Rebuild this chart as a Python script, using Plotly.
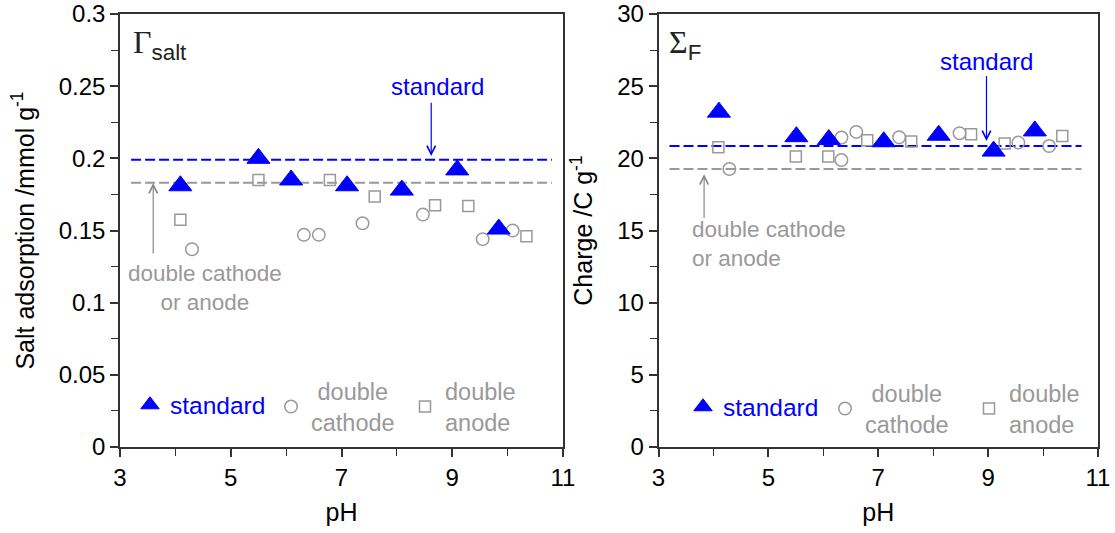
import plotly.graph_objects as go

# ---------------- data ----------------
# Left panel: salt adsorption (mmol/g)
ph_std_L = [4.09, 5.50, 6.09, 7.10, 8.09, 9.09, 9.84]
salt_std = [0.181, 0.200, 0.185, 0.181, 0.178, 0.192, 0.151]
ph_cat_L = [4.30, 6.32, 6.59, 7.38, 8.47, 9.55, 10.09]
salt_cat = [0.137, 0.147, 0.147, 0.155, 0.161, 0.144, 0.150]
ph_an_L = [4.09, 5.50, 6.79, 7.60, 8.69, 9.29, 10.34]
salt_an = [0.1575, 0.185, 0.185, 0.1735, 0.1675, 0.167, 0.146]
salt_std_mean = 0.199
salt_dbl_mean = 0.183

# Right panel: charge (C/g)
ph_std_R = [4.10, 5.51, 6.10, 7.10, 8.10, 9.10, 9.85]
chg_std = [23.2, 21.5, 21.3, 21.15, 21.6, 20.5, 21.9]
ph_cat_R = [4.29, 6.33, 6.33, 6.60, 7.38, 8.48, 9.55, 10.11]
chg_cat = [19.26, 21.44, 19.88, 21.83, 21.46, 21.74, 21.09, 20.85]
ph_an_R = [4.09, 5.50, 6.09, 6.80, 7.60, 8.69, 9.30, 10.35]
chg_an = [20.76, 20.12, 20.12, 21.25, 21.16, 21.67, 21.02, 21.55]
chg_std_mean = 20.85
chg_dbl_mean = 19.26

line_x_L = [3.2, 10.8]
line_x_R = [3.2, 10.7]

# ---------------- style ----------------
FONT = "Liberation Sans"
BLUE = "#0000FF"
GRAY = "#999999"
AXC = "#333333"
W, H = 1115, 533

fig = go.Figure()

def add_lines(xa, ya, xl, std_v, dbl_v):
    fig.add_trace(go.Scatter(x=xl, y=[std_v, std_v], mode="lines", xaxis=xa, yaxis=ya,
                             line=dict(color=BLUE, width=2, dash="10px,4px"), showlegend=False,
                             hoverinfo="skip"))
    fig.add_trace(go.Scatter(x=xl, y=[dbl_v, dbl_v], mode="lines", xaxis=xa, yaxis=ya,
                             line=dict(color=GRAY, width=2, dash="10px,4px"), showlegend=False,
                             hoverinfo="skip"))

def add_series(xa, ya, xs, ys, xc, yc, xq, yq, legs):
    fig.add_trace(go.Scatter(
        x=xc, y=yc, mode="markers", xaxis=xa, yaxis=ya, legend=legs[1],
        name="&nbsp;double<br>cathode",
        marker=dict(symbol="circle-open", size=12.5, color=GRAY, line=dict(width=1.5, color=GRAY))))
    fig.add_trace(go.Scatter(
        x=xq, y=yq, mode="markers", xaxis=xa, yaxis=ya, legend=legs[2],
        name="double<br>anode",
        marker=dict(symbol="square-open", size=11, color=GRAY, line=dict(width=1.5, color=GRAY))))
    fig.add_trace(go.Scatter(
        x=xs, y=ys, mode="markers", xaxis=xa, yaxis=ya, legend=legs[0],
        name="<span style='color:#0000FF;font-size:24.5px'>standard</span>",
        marker=dict(symbol="triangle-up", size=20, color=BLUE, line=dict(width=1, color=BLUE))))

add_lines("x", "y", line_x_L, salt_std_mean, salt_dbl_mean)
add_lines("x2", "y2", line_x_R, chg_std_mean, chg_dbl_mean)
add_series("x", "y", ph_std_L, salt_std, ph_cat_L, salt_cat, ph_an_L, salt_an,
           ["legend", "legend2", "legend3"])
add_series("x2", "y2", ph_std_R, chg_std, ph_cat_R, chg_cat, ph_an_R, chg_an,
           ["legend4", "legend5", "legend6"])

ydom = [1 - 447 / H, 1 - 14 / H]
common_x = dict(range=[3, 11], dtick=2, tick0=3, ticks="outside", ticklen=8, tickwidth=1.5,
                tickcolor=AXC, showline=True, linecolor=AXC, linewidth=1.5, mirror=True,
                showgrid=False, zeroline=False, automargin=False,
                minor=dict(dtick=1, ticks="outside", ticklen=7, tickwidth=1.2, tickcolor=AXC, showgrid=False),
                tickfont=dict(family=FONT, size=24, color="black"),
                title=dict(text="pH", font=dict(family=FONT, size=25, color="black"), standoff=14))
common_y = dict(ticks="outside", ticklen=8, tickwidth=1.5, tickcolor=AXC, showline=True,
                linecolor=AXC, linewidth=1.5, mirror=True, showgrid=False, zeroline=False,
                automargin=False,
                tickfont=dict(family=FONT, size=24, color="black"), domain=ydom)

def leg(xpix, ypix):
    return dict(x=(xpix - 20) / W, y=1 - ypix / H, xanchor="left", yanchor="middle",
                orientation="v", bgcolor="rgba(0,0,0,0)", valign="middle", tracegroupgap=0,
                font=dict(family=FONT, size=23.5, color=GRAY))

fig.update_layout(
    width=W, height=H,
    margin=dict(l=0, r=0, t=0, b=0),
    plot_bgcolor="white", paper_bgcolor="white",
    xaxis=dict(domain=[120 / W, 563 / W], anchor="y", **common_x),
    yaxis=dict(range=[0, 0.3], dtick=0.05, anchor="x",
               minor=dict(dtick=0.025, ticks="outside", ticklen=7, tickwidth=1.2, tickcolor=AXC, showgrid=False),
               title=dict(text="Salt adsorption /mmol g<sup>-1</sup>", font=dict(family=FONT, size=25, color="black"), standoff=17),
               **common_y),
    xaxis2=dict(domain=[658.5 / W, 1098 / W], anchor="y2", **common_x),
    yaxis2=dict(range=[0, 30], dtick=5, anchor="x2",
                minor=dict(dtick=2.5, ticks="outside", ticklen=7, tickwidth=1.2, tickcolor=AXC, showgrid=False),
                title=dict(text="Charge /C g<sup>-1</sup>", font=dict(family=FONT, size=25, color="black"), standoff=17),
                **common_y),
    legend=leg(150, 405), legend2=leg(291, 407), legend3=leg(425, 407),
    legend4=leg(703, 407), legend5=leg(845, 409), legend6=leg(989, 409),
)

# ---------------- annotations ----------------
ann = []
# panel titles
ann.append(dict(xref="paper", yref="paper", x=131 / W, y=1 - 45 / H, xanchor="left", yanchor="middle",
                text="<span style='font-family:Liberation Serif'>Γ</span><sub>salt</sub>",
                showarrow=False, font=dict(family=FONT, size=32, color="#222222")))
ann.append(dict(xref="paper", yref="paper", x=667 / W, y=1 - 45 / H, xanchor="left", yanchor="middle",
                text="<span style='font-family:Liberation Serif'>Σ</span><sub>F</sub>",
                showarrow=False, font=dict(family=FONT, size=32, color="#222222")))
# left labels
ann.append(dict(xref="x", yref="y", x=8.73, y=0.2495, text="standard", showarrow=False,
                font=dict(family=FONT, size=24, color=BLUE)))
ann.append(dict(xref="x", yref="y", x=8.62, y=0.2016, ax=8.62, ay=0.2395, axref="x", ayref="y",
                text="", showarrow=True, arrowhead=5, arrowsize=1.4, arrowwidth=1.2, arrowcolor=BLUE))
ann.append(dict(xref="x", yref="y", x=4.54, y=0.110, text="double cathode<br>or anode", showarrow=False,
                align="center", font=dict(family=FONT, size=22.5, color=GRAY)))
ann.append(dict(xref="x", yref="y", x=3.60, y=0.1829, ax=3.60, ay=0.133, axref="x", ayref="y",
                text="", showarrow=True, arrowhead=5, arrowsize=1.4, arrowwidth=1.2, arrowcolor="#888888"))
# right labels
ann.append(dict(xref="x2", yref="y2", x=8.97, y=21.2, ax=8.97, ay=26.74, axref="x2", ayref="y2",
                text="standard", showarrow=True, arrowhead=5, arrowsize=1.4, arrowwidth=1.2,
                arrowcolor=BLUE, standoff=0, startstandoff=0,
                font=dict(family=FONT, size=24, color=BLUE)))
ann.append(dict(xref="x2", yref="y2", x=3.57, y=14.03, xanchor="left", text="double cathode<br>or anode",
                showarrow=False, align="left", font=dict(family=FONT, size=22.5, color=GRAY)))
ann.append(dict(xref="x2", yref="y2", x=3.83, y=18.9, ax=3.83, ay=15.76, axref="x2", ayref="y2",
                text="", showarrow=True, arrowhead=5, arrowsize=1.4, arrowwidth=1.2, arrowcolor="#888888"))
fig.update_layout(annotations=ann)

fig.write_html("out.html", config={"displayModeBar": False},
               post_script="document.body.style.margin='0';")
